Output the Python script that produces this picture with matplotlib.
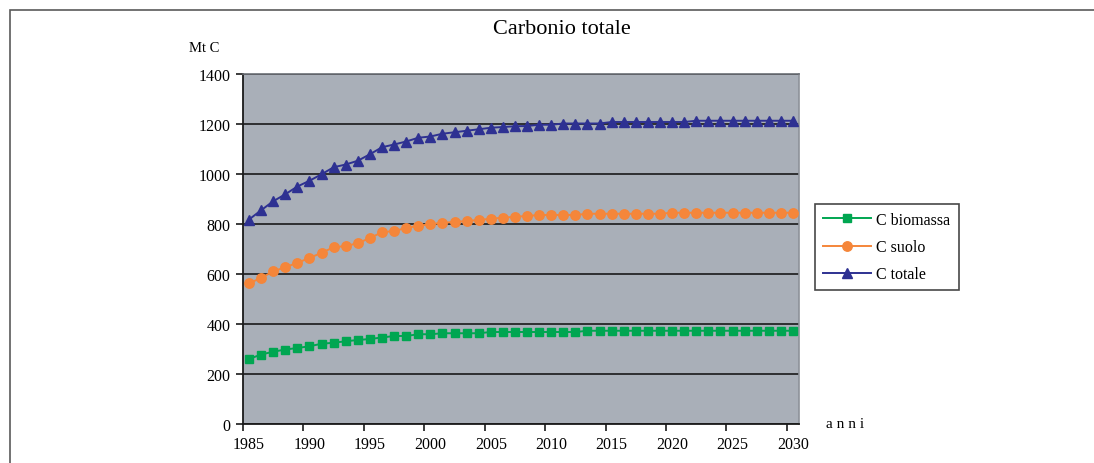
import numpy as np
import matplotlib
matplotlib.use("Agg")
import matplotlib.pyplot as plt
from matplotlib.patches import Rectangle

plt.rcParams['font.family'] = ['Liberation Serif', 'DejaVu Serif']

# Years on the category axis
years = list(range(1985, 2031))
tick_years = [1985, 1990, 1995, 2000, 2005, 2010, 2015, 2020, 2025, 2030]

# Carbon stocks (Mt C)
c_biomassa = [260, 278, 289, 298, 304, 311, 321, 325, 331, 336,
              340, 346, 352, 352, 359, 359, 363, 363, 363, 363,
              368, 368, 368, 368, 368, 368, 368, 368,
              373, 373, 373, 373, 373, 373, 373, 373, 373, 373,
              373, 373, 373, 373, 373, 373, 373, 373]
c_suolo = [563, 584, 611, 627, 645, 664, 685, 707, 712, 723,
           744, 767, 772, 784, 793, 799, 805, 808, 812, 816,
           821, 825, 829, 832, 836, 836, 836, 836,
           841, 841, 841, 841, 841, 841, 841,
           845, 845, 845, 845, 845, 845, 845, 845, 845, 845, 845]
c_totale = [818, 855, 891, 919, 950, 973, 999, 1027, 1038, 1053,
            1079, 1107, 1118, 1130, 1145, 1150, 1161, 1167, 1173, 1179,
            1185, 1188, 1191, 1192, 1197, 1197,
            1202, 1202, 1202, 1202,
            1208, 1208, 1208, 1208, 1208, 1208, 1208,
            1213, 1213, 1213, 1213, 1213, 1213, 1213, 1213, 1213]

W, H = 1094, 464
fig = plt.figure(figsize=(W / 100, H / 100), dpi=100)
fig.patch.set_facecolor('white')

# Chart-area frame
fig.patches.append(Rectangle((10 / W, -0.2), 1.2, (H - 11) / H + 0.2,
                             transform=fig.transFigure, fill=False,
                             edgecolor='#5a5a5a', lw=1.2))

left, right, top, bottom = 243, 799, 75, 425
ax = fig.add_axes([left / W, 1 - bottom / H, (right - left) / W, (bottom - top) / H])
ax.set_facecolor('#a9afb8')

n = len(years)
x = np.arange(n) + 0.5

green = '#00a651'
orange = '#f5863a'
navy = '#2e3192'

ax.plot(x, c_biomassa, color=green, lw=1.4, marker='s', ms=6, label='C biomassa', zorder=3)
ax.plot(x, c_suolo, color=orange, lw=1.4, marker='o', ms=6.8, label='C suolo', zorder=3)
ax.plot(x, c_totale, color=navy, lw=1.4, marker='^', ms=7.2, label='C totale', zorder=3)

ax.set_xlim(0, n)
ax.set_ylim(0, 1400)
ax.set_yticks(np.arange(0, 1401, 200))
ax.yaxis.grid(True, color='#1a1a1a', lw=1.2)
ax.set_axisbelow(True)

# tick marks on category boundaries, labels centred on categories
idx = [years.index(y) for y in tick_years]
ax.set_xticks(idx)
ax.set_xticklabels([])
ax.set_xticks([i + 0.5 for i in idx], minor=True)
ax.set_xticklabels([str(y) for y in tick_years], minor=True)
ax.tick_params(axis='x', which='major', length=5, width=1.2, color='#1a1a1a', direction='out')
ax.tick_params(axis='x', which='minor', length=0, pad=9, labelsize=11.5)
ax.tick_params(axis='y', length=5, width=1.2, color='#1a1a1a', labelsize=11.5, pad=4)

for s in ['left', 'bottom']:
    ax.spines[s].set_color('#1a1a1a')
    ax.spines[s].set_linewidth(1.3)
ax.spines['top'].set_color('#6b6f75')
ax.spines['right'].set_color('#8d9299')
ax.spines['top'].set_linewidth(1.2)
ax.spines['right'].set_linewidth(1.2)

fig.text(562 / W, 1 - 30 / H, 'Carbonio totale', ha='center', va='center', fontsize=16)
fig.text(204 / W, 1 - 48 / H, 'Mt C', ha='center', va='center', fontsize=10.5)
fig.text(845 / W, 1 - 425 / H, 'a n n i', ha='center', va='center', fontsize=11)

leg = ax.legend(loc='upper left', bbox_to_anchor=(815 / W, 1 - 205 / H),
                bbox_transform=fig.transFigure, borderaxespad=0, fancybox=False,
                frameon=True, fontsize=11.5, handlelength=3.0, labelspacing=0.7,
                borderpad=0.5, handletextpad=0.35)
leg.get_frame().set_edgecolor('#1a1a1a')
leg.get_frame().set_linewidth(1.2)

fig.savefig('out.png', dpi=100)
